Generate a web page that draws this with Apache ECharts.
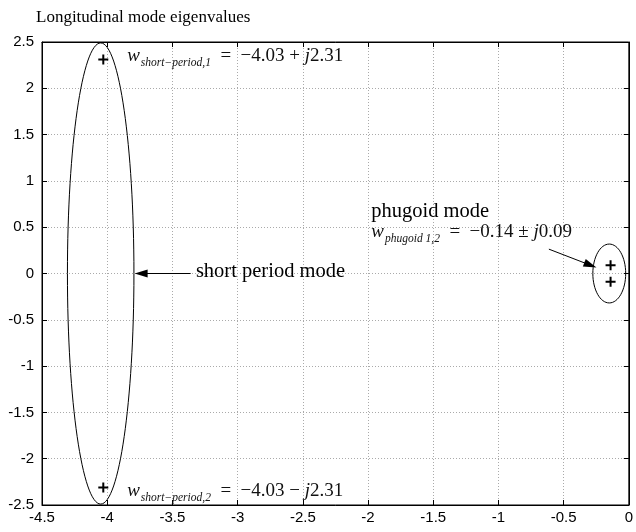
<!DOCTYPE html>
<html>
<head>
<meta charset="utf-8">
<script src="https://cdn.jsdelivr.net/npm/echarts@6/dist/echarts.min.js"></script>
<style>
  html, body { margin: 0; padding: 0; background: #fff; }
  #main { width: 636px; height: 532px; }
</style>
</head>
<body>
<div id="main"></div>
<script>
// eigenvalues: real and imaginary parts
var poleRe = [-4.03, -4.03, -0.14, -0.14];
var poleIm = [2.31, -2.31, 0.09, -0.09];
// ellipses round the modes: [centre re, centre im, half width, half height]
var modeEllipses = [
    [-4.05, 0, 0.255, 2.49],
    [-0.15, 0, 0.126, 0.318]
];
var xTickLabels = ['-4.5', '-4', '-3.5', '-3', '-2.5', '-2', '-1.5', '-1', '-0.5', '0'];
var yTickLabels = ['-2.5', '-2', '-1.5', '-1', '-0.5', '0', '0.5', '1', '1.5', '2', '2.5'];

var serif = 'Liberation Serif';
var mathRich = {
    w: { fontFamily: serif, fontStyle: 'italic', fontSize: 19, lineHeight: 20, verticalAlign: 'top', fill: '#111' },
    s: { fontFamily: serif, fontStyle: 'italic', fontSize: 11.5, lineHeight: 11, padding: [10, 0, 0, 1], verticalAlign: 'top', fill: '#111' },
    n: { fontFamily: serif, fontSize: 19, lineHeight: 20, verticalAlign: 'top', fill: '#111' },
    j: { fontFamily: serif, fontStyle: 'italic', fontSize: 19, lineHeight: 20, verticalAlign: 'top', fill: '#111' },
    t: { fontFamily: serif, fontSize: 20.5, lineHeight: 22, verticalAlign: 'middle', fill: '#000' }
};

// text notes: [re, im, text]
var notes = [
    [-3.847, 2.34, '{w|w}{s|short\u2212period,1}{n|  =  \u22124.03 + }{j|j}{n|2.31}'],
    [-3.847, -2.356, '{w|w}{s|short\u2212period,2}{n|  =  \u22124.03 \u2212 }{j|j}{n|2.31}'],
    [-1.975, 0.44, '{w|w}{s|phugoid 1,2}{n|  =  \u22120.14 \u00b1 }{j|j}{n|0.09}'],
    [-3.32, 0.025, '{t|short period mode}'],
    [-1.975, 0.665, '{t|phugoid mode}']
];

var options = {
    animation: false,
    backgroundColor: '#fff',
    title: {
        text: 'Longitudinal mode eigenvalues',
        left: 31,
        top: 4,
        textStyle: { fontFamily: serif, fontSize: 17, fontWeight: 'normal', color: '#000' }
    },
    grid: { left: 42, right: 3, top: 42, bottom: 27, show: true, borderColor: '#000', borderWidth: 1 },
    xAxis: [{
        type: 'value', min: -4.5, max: 0, interval: 0.5,
        axisLine: { onZero: false, lineStyle: { color: '#000' } },
        axisTick: { inside: true, length: 5, lineStyle: { color: '#000' } },
        axisLabel: {
            color: '#000', fontFamily: 'Liberation Sans', fontSize: 15, margin: 5,
            showMinLabel: true, showMaxLabel: true,
            formatter: function (v) { return xTickLabels[Math.round((v + 4.5) / 0.5)]; }
        },
        splitLine: { show: true, lineStyle: { color: '#aaa', type: [1, 2] } }
    }, {
        type: 'value', min: -4.5, max: 0, interval: 0.5, position: 'top',
        axisLine: { onZero: false, lineStyle: { color: '#000' } },
        axisTick: { inside: true, length: 5, lineStyle: { color: '#000' } },
        axisLabel: { show: false }, splitLine: { show: false }
    }],
    yAxis: [{
        type: 'value', min: -2.5, max: 2.5, interval: 0.5,
        axisLine: { show: true, onZero: false, lineStyle: { color: '#000' } },
        axisTick: { show: true, inside: true, length: 5, lineStyle: { color: '#000' } },
        axisLabel: {
            color: '#000', fontFamily: 'Liberation Sans', fontSize: 15, margin: 8,
            showMinLabel: true, showMaxLabel: true,
            formatter: function (v) { return yTickLabels[Math.round((v + 2.5) / 0.5)]; }
        },
        splitLine: { show: true, lineStyle: { color: '#aaa', type: [1, 2] } }
    }, {
        type: 'value', min: -2.5, max: 2.5, interval: 0.5, position: 'right',
        axisLine: { show: true, onZero: false, lineStyle: { color: '#000' } },
        axisTick: { show: true, inside: true, length: 5, lineStyle: { color: '#000' } },
        axisLabel: { show: false }, splitLine: { show: false }
    }],
    series: [
        {
            type: 'custom',
            silent: true,
            clip: false,
            data: modeEllipses,
            renderItem: function (params, api) {
                var c = api.coord([api.value(0), api.value(1)]);
                var s = api.size([api.value(2), api.value(3)]);
                return {
                    type: 'ellipse',
                    shape: { cx: c[0], cy: c[1], rx: s[0], ry: s[1] },
                    style: { fill: 'none', stroke: '#000', lineWidth: 1 }
                };
            }
        },
        {
            type: 'scatter',
            silent: true,
            data: poleRe.map(function (re, i) { return [re, poleIm[i]]; }),
            symbol: 'path://M0,-1V1M-1,0H1',
            symbolSize: 10,
            itemStyle: { color: '#000', borderColor: '#000', borderWidth: 2, opacity: 1 },
            markLine: {
                silent: true,
                symbol: ['none', 'triangle'],
                symbolSize: [8, 13],
                label: { show: false },
                lineStyle: { color: '#000', width: 1, type: 'solid', opacity: 1 },
                itemStyle: { color: '#000' },
                data: [
                    [{ coord: [-3.36, 0] }, { coord: [-3.74, 0] }],
                    [{ coord: [-0.613, 0.263] }, { coord: [-0.295, 0.09] }]
                ]
            }
        },
        {
            type: 'custom',
            silent: true,
            clip: false,
            data: notes,
            renderItem: function (params, api) {
                var item = notes[params.dataIndex];
                var p = api.coord([item[0], item[1]]);
                return {
                    type: 'text',
                    x: p[0],
                    y: p[1],
                    style: {
                        text: item[2],
                        rich: mathRich,
                        align: 'left',
                        verticalAlign: 'middle',
                        fill: '#000'
                    }
                };
            }
        }
    ]
};

var chart = echarts.init(document.getElementById('main'), null, { renderer: 'canvas' });
chart.setOption(options);
</script>
</body>
</html>
